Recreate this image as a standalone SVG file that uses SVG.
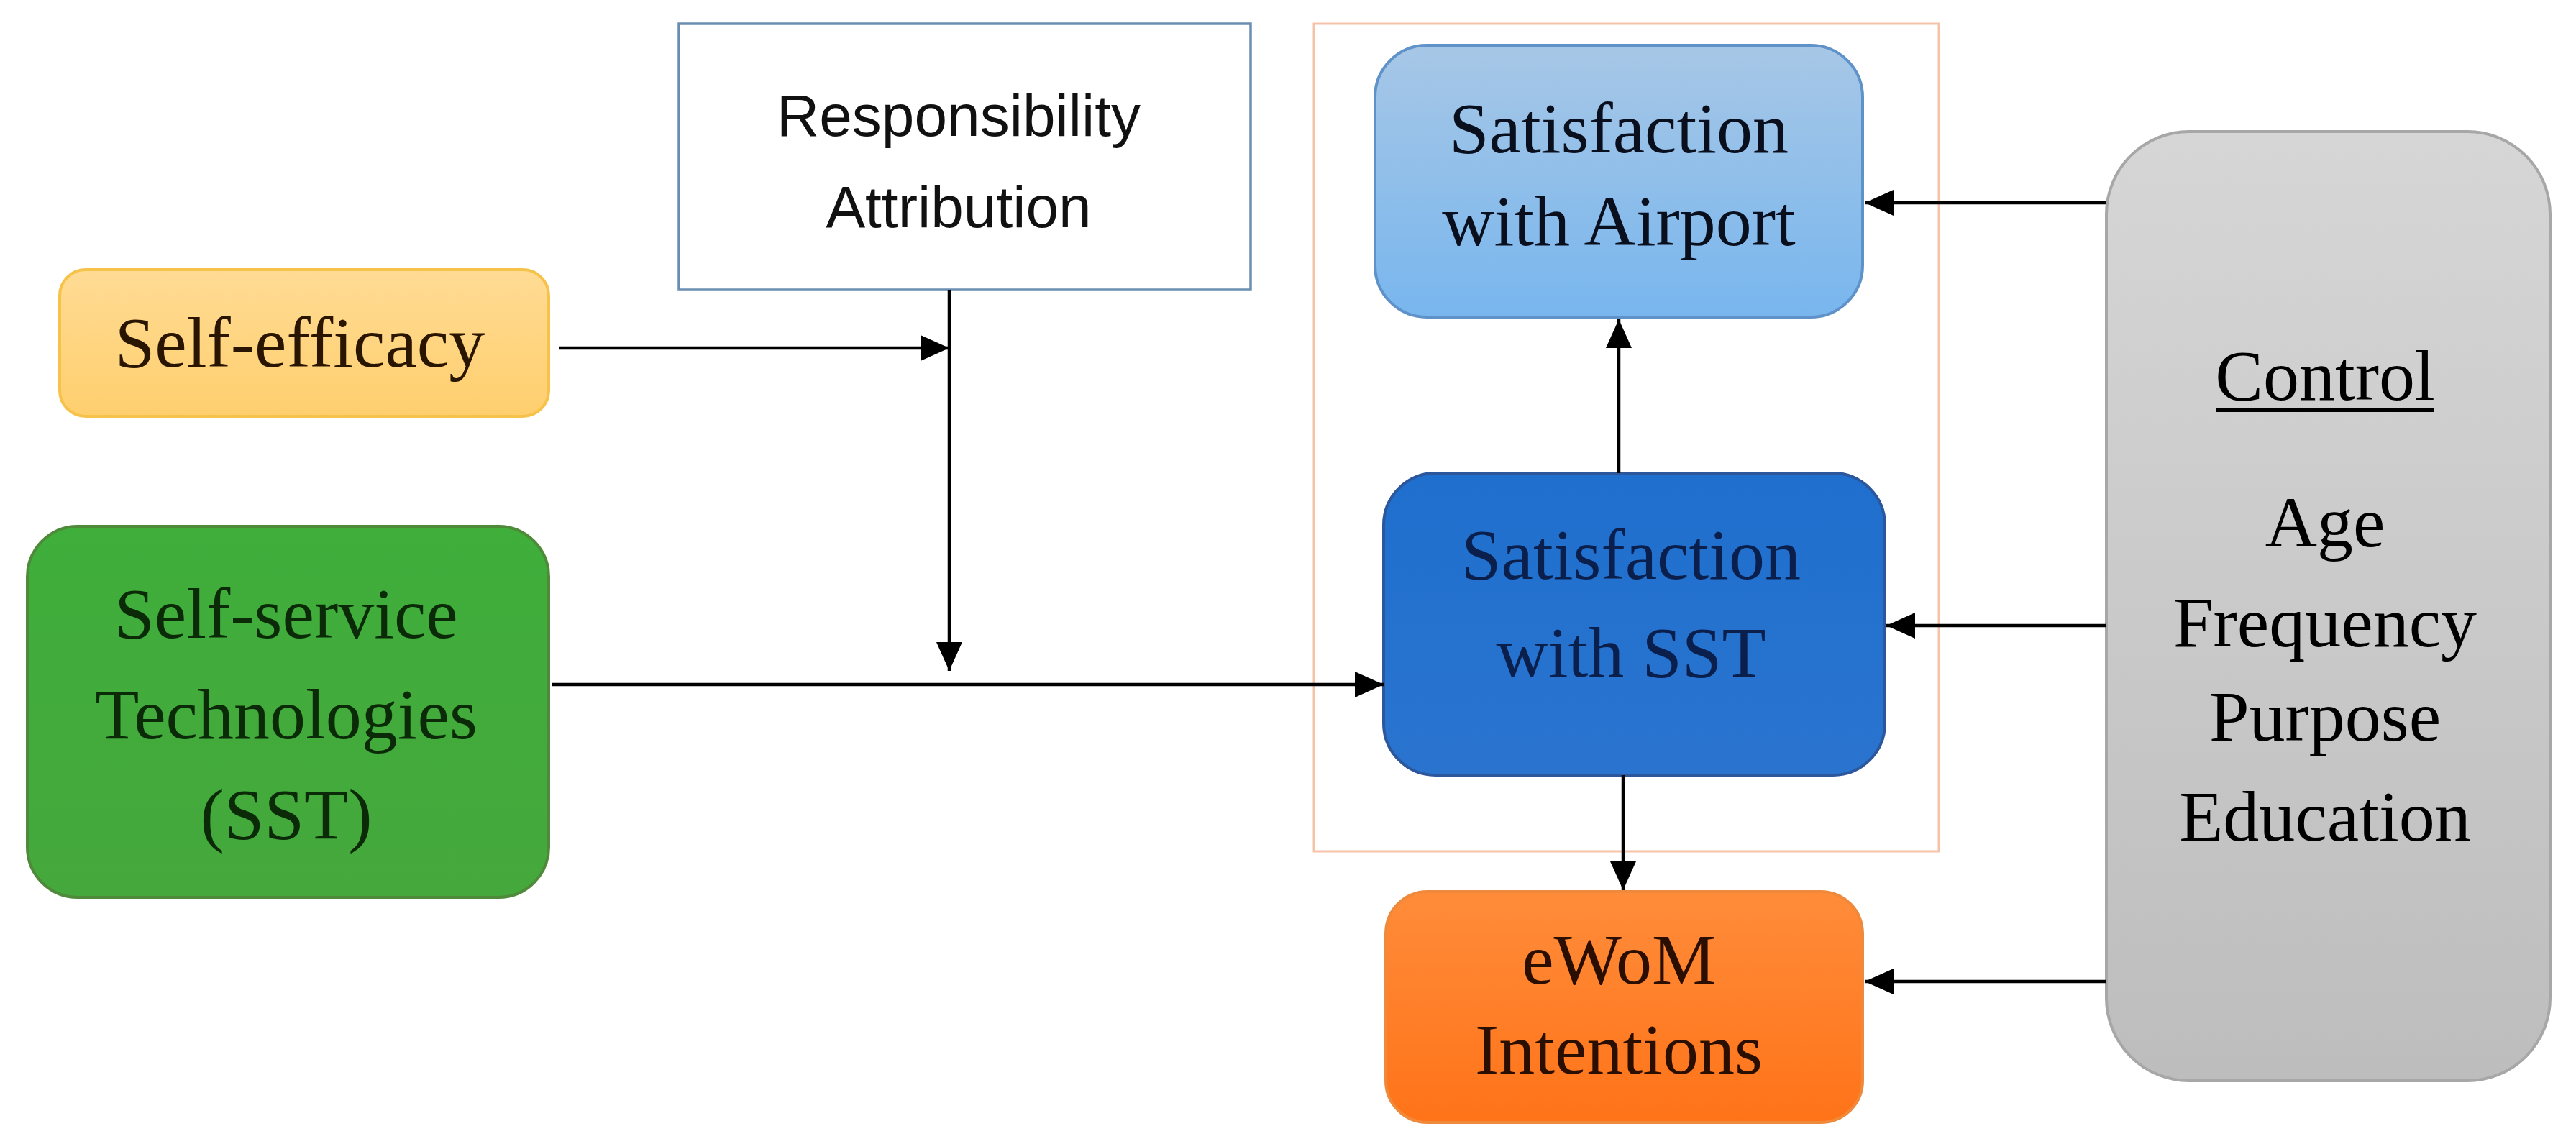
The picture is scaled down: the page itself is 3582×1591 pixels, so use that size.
<svg xmlns="http://www.w3.org/2000/svg" width="3582" height="1591" viewBox="0 0 3582 1591">
<style>
.serif{font-family:"Liberation Serif","Times New Roman",serif;font-size:100px;text-anchor:middle}
.sans{font-family:"Liberation Sans",Arial,sans-serif;font-size:82px;text-anchor:middle;fill:#111}
.conn{fill:none;stroke:#000;stroke-width:4.5}
</style>
<defs>
<marker id="ah" markerUnits="userSpaceOnUse" markerWidth="42" markerHeight="38" refX="40" refY="19" orient="auto">
<path d="M0,1 L40,19 L0,37 z" fill="#000"/>
</marker>
<linearGradient id="gY" x1="0" y1="0" x2="0" y2="1"><stop offset="0" stop-color="#ffdb94"/><stop offset="1" stop-color="#ffcf6e"/></linearGradient>
<linearGradient id="gG" x1="0" y1="0" x2="0" y2="1"><stop offset="0" stop-color="#3fae3b"/><stop offset="1" stop-color="#45a83c"/></linearGradient>
<linearGradient id="gLB" x1="0" y1="0" x2="0" y2="1"><stop offset="0" stop-color="#a7c7e6"/><stop offset="1" stop-color="#78b6ee"/></linearGradient>
<linearGradient id="gB" x1="0" y1="0" x2="0" y2="1"><stop offset="0" stop-color="#1f6fce"/><stop offset="1" stop-color="#2a74cf"/></linearGradient>
<linearGradient id="gO" x1="0" y1="0" x2="0" y2="1"><stop offset="0" stop-color="#ff8c3a"/><stop offset="1" stop-color="#ff7318"/></linearGradient>
<linearGradient id="gGr" x1="0" y1="0" x2="0" y2="1"><stop offset="0" stop-color="#d6d6d6"/><stop offset="1" stop-color="#bdbdbd"/></linearGradient>
</defs>
<rect width="3582" height="1591" fill="#fff"/>

<g id="frame">
<rect x="1827" y="33" width="869" height="1151" fill="none" stroke="#f5c3a8" stroke-width="3"/>
</g>

<g id="responsibility">
<rect x="944" y="33" width="795" height="370" fill="#fff" stroke="#6a8eb2" stroke-width="3.5"/>
<text class="sans" x="1333" y="189">Responsibility</text>
<text class="sans" x="1333" y="316">Attribution</text>
</g>

<g id="selfefficacy">
<rect x="83" y="375" width="680" height="204" rx="36" fill="url(#gY)" stroke="#f7c24a" stroke-width="4"/>
<text class="serif" x="417" y="510" fill="#2a1500">Self-efficacy</text>
</g>

<g id="sst">
<rect x="38" y="732" width="725" height="516" rx="70" fill="url(#gG)" stroke="#4f8a3a" stroke-width="4"/>
<text class="serif" x="398" y="887" fill="#0a2a08">Self-service</text>
<text class="serif" x="398" y="1027" fill="#0a2a08">Technologies</text>
<text class="serif" x="398" y="1166" fill="#0a2a08">(SST)</text>
</g>

<g id="satairport">
<rect x="1912" y="63" width="678" height="378" rx="72" fill="url(#gLB)" stroke="#5f92c8" stroke-width="4"/>
<text class="serif" x="2251" y="212" fill="#0a0f1e">Satisfaction</text>
<text class="serif" x="2251" y="341" fill="#0a0f1e">with Airport</text>
</g>

<g id="satsst">
<rect x="1924" y="658" width="697" height="420" rx="72" fill="url(#gB)" stroke="#2d579c" stroke-width="4"/>
<text class="serif" x="2268" y="805" fill="#0b1f4d">Satisfaction</text>
<text class="serif" x="2268" y="941" fill="#0b1f4d">with SST</text>
</g>

<g id="ewom">
<rect x="1927" y="1240" width="663" height="321" rx="58" fill="url(#gO)" stroke="#ef8a3c" stroke-width="4"/>
<text class="serif" x="2251" y="1368" fill="#2a0e00">eWoM</text>
<text class="serif" x="2251" y="1493" fill="#2a0e00">Intentions</text>
</g>

<g id="control">
<rect x="2929" y="183" width="617" height="1320" rx="115" fill="url(#gGr)" stroke="#a7a7a7" stroke-width="4"/>
<text class="serif" x="3233" y="556" fill="#000">Control</text>
<rect x="3081" y="568" width="304" height="5" fill="#000"/>
<text class="serif" x="3233" y="760" fill="#000">Age</text>
<text class="serif" x="3233" y="899" fill="#000">Frequency</text>
<text class="serif" x="3233" y="1030" fill="#000">Purpose</text>
<text class="serif" x="3233" y="1169" fill="#000">Education</text>
</g>

<g id="connectors">
<path class="conn" d="M778,484 H1320" marker-end="url(#ah)"/>
<path class="conn" d="M1320,403 V933" marker-end="url(#ah)"/>
<path class="conn" d="M767,952 H1924" marker-end="url(#ah)"/>
<path class="conn" d="M2251,658 V444" marker-end="url(#ah)"/>
<path class="conn" d="M2257,1078 V1238" marker-end="url(#ah)"/>
<path class="conn" d="M2929,282 H2593" marker-end="url(#ah)"/>
<path class="conn" d="M2929,870 H2623" marker-end="url(#ah)"/>
<path class="conn" d="M2929,1365 H2593" marker-end="url(#ah)"/>
</g>
</svg>
